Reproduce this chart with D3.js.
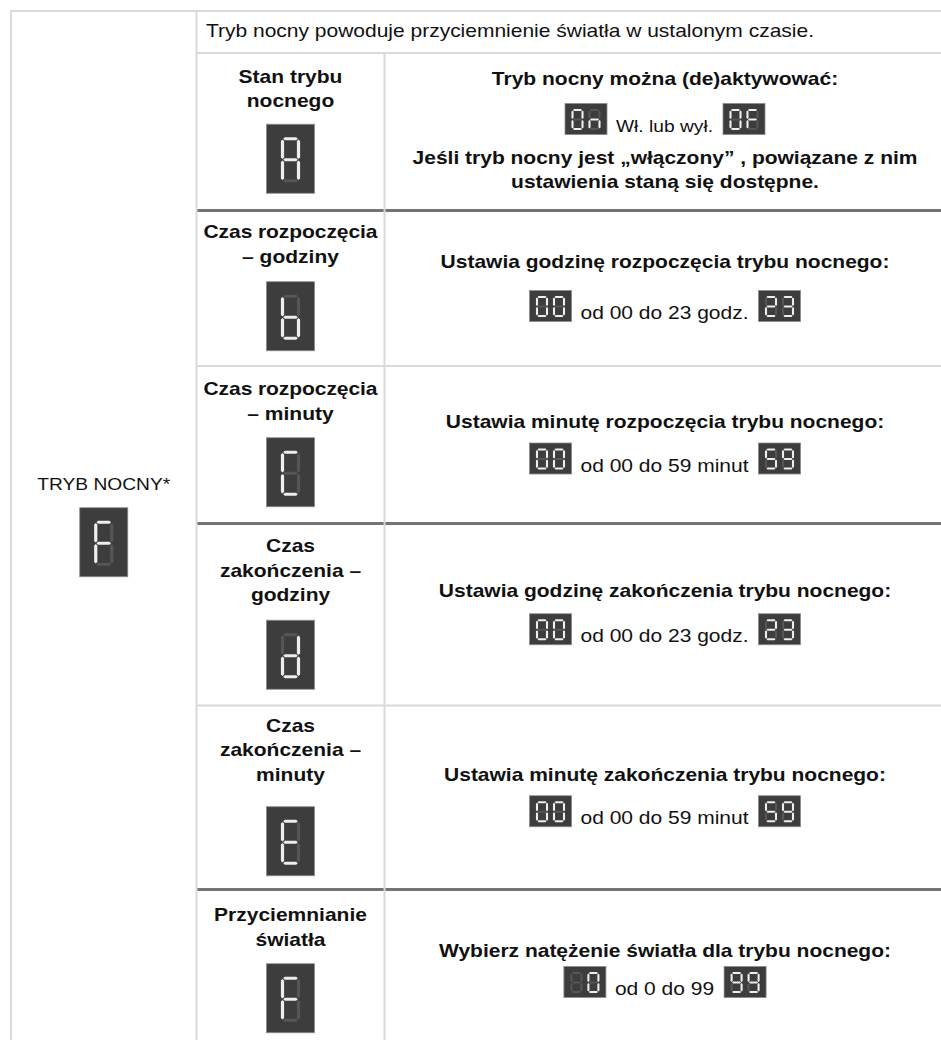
<!DOCTYPE html>
<html><head><meta charset="utf-8">
<script src="https://cdn.jsdelivr.net/npm/d3@7"></script>
<style>html,body{margin:0;padding:0;background:#fff;} svg{display:block;}</style>
</head><body><svg id="c" width="941" height="1040"></svg>
<script>
// ---------- data ----------
const groupLabel = "TRYB NOCNY*";
const groupCode = "F";
const introText = "Tryb nocny powoduje przyciemnienie światła w ustalonym czasie.";
const settingNames = [
  ["Stan trybu", "nocnego"],
  ["Czas rozpoczęcia", "– godziny"],
  ["Czas rozpoczęcia", "– minuty"],
  ["Czas", "zakończenia –", "godziny"],
  ["Czas", "zakończenia –", "minuty"],
  ["Przyciemnianie", "światła"]
];
const settingCodes = ["A", "b", "C", "d", "E", "F"];
const descriptions = [
  "Tryb nocny można (de)aktywować:",
  "Ustawia godzinę rozpoczęcia trybu nocnego:",
  "Ustawia minutę rozpoczęcia trybu nocnego:",
  "Ustawia godzinę zakończenia trybu nocnego:",
  "Ustawia minutę zakończenia trybu nocnego:",
  "Wybierz natężenie światła dla trybu nocnego:"
];
const rangeFrom = ["0n", "00", "00", "00", "00", " 0"];
const rangeTo = ["0F", "23", "59", "23", "59", "99"];
const rangeLabels = ["Wł. lub wył.", "od 00 do 23 godz.", "od 00 do 59 minut", "od 00 do 23 godz.", "od 00 do 59 minut", "od 0 do 99"];
const notes = [
  ["Jeśli tryb nocny jest „włączony” , powiązane z nim", "ustawienia staną się dostępne."],
  [], [], [], [], []
];
const separators = ["thick", "light", "thick", "light", "thick"];

// 7-segment map
const SEG = {"0":"abcdef","2":"abdeg","3":"abcdg","5":"acdfg","9":"abcdfg",
  "A":"abcefg","b":"cdefg","C":"adef","d":"bcdeg","E":"adefg","F":"aefg","n":"ceg"," ":""};

// ---------- layout ----------
const W = 941, H = 1040, SX = 1.2;
const X0 = 11, XC1 = 196.5, XC2 = 384.5, XR = W;
const Y0 = 11, YH = 53;
const rowEdges = [53, 210.5, 366, 523.5, 705.5, 889.5, 1052];
const leftGap = [17, 19, 18, 19, 26, 18];
const descGap = [19, 23, 15, 17, 15, 10];
const leftCenterY = 527;
const CX1 = (XC1 + XC2) / 2, CX2 = 665, CX0 = (X0 + XC1) / 2;
const FONT = "'Liberation Sans', Arial, Helvetica, sans-serif";
const LIT = "#eeeeee", DIM = "#565656", BOXF = "#3d3d3d", BOXS = "#8a8a8a";
const LIGHT = "#dadada", THICK = "#747474";

const svg = d3.select("#c");
svg.append("rect").attr("width", W).attr("height", H).attr("fill", "#fff");

function addText(parent, x, y, str, size, weight, anchor) {
  return parent.append("text")
    .attr("transform", `translate(${x},${y}) scale(${SX},1)`)
    .attr("text-anchor", anchor || "middle")
    .style("font-family", FONT)
    .style("font-size", size + "px")
    .style("font-weight", weight || "normal")
    .attr("fill", "#111")
    .text(str);
}
function textW(t) { return t.node().getComputedTextLength() * SX; }
function fit(t, maxW) {
  const w = textW(t);
  if (w > maxW) t.attr("textLength", maxW / SX).attr("lengthAdjust", "spacing");
}
function hseg(cx, cy, L, t) { const h = t / 2; return [[cx-L/2,cy],[cx-L/2+h,cy-h],[cx+L/2-h,cy-h],[cx+L/2,cy],[cx+L/2-h,cy+h],[cx-L/2+h,cy+h]]; }
function vseg(cx, cy, L, t) { const h = t / 2; return [[cx,cy-L/2],[cx+h,cy-L/2+h],[cx+h,cy+L/2-h],[cx,cy+L/2],[cx-h,cy+L/2-h],[cx-h,cy-L/2+h]]; }
function digit(g, ch, x0, y0, w, h, t) {
  const gap = t * 0.45;
  const segs = [
    ["a", hseg(x0 + w/2, y0, w - gap, t)],
    ["b", vseg(x0 + w, y0 + h/4, h/2 - gap, t)],
    ["c", vseg(x0 + w, y0 + 3*h/4, h/2 - gap, t)],
    ["d", hseg(x0 + w/2, y0 + h, w - gap, t)],
    ["e", vseg(x0, y0 + 3*h/4, h/2 - gap, t)],
    ["f", vseg(x0, y0 + h/4, h/2 - gap, t)],
    ["g", hseg(x0 + w/2, y0 + h/2, w - gap, t)]
  ];
  const on = SEG[ch] || "";
  g.append("g").selectAll("polygon").data(segs).join("polygon")
    .attr("points", d => d[1].map(p => p.join(",")).join(" "))
    .attr("fill", d => on.includes(d[0]) ? LIT : DIM);
}
function bigDisplay(g, cx, top, ch) {
  g.append("rect").attr("x", cx - 24).attr("y", top).attr("width", 48).attr("height", 69)
    .attr("fill", BOXF).attr("stroke", BOXS).attr("stroke-width", 0.8);
  digit(g, ch, cx - 8, top + 14.5, 16, 42, 3.2);
}
function smallDisplay(g, x, top, str) {
  g.append("rect").attr("x", x).attr("y", top).attr("width", 42).attr("height", 31)
    .attr("fill", BOXF).attr("stroke", BOXS).attr("stroke-width", 0.8);
  digit(g, str[0], x + 7.5, top + 6.5, 10, 19, 2.1);
  digit(g, str[1], x + 24.5, top + 6.5, 10, 19, 2.1);
}

// ---------- grid lines ----------
const lines = svg.append("g");
lines.append("line").attr("x1", X0 - 1).attr("x2", XR).attr("y1", Y0).attr("y2", Y0).attr("stroke", LIGHT).attr("stroke-width", 2);
lines.append("line").attr("x1", X0).attr("x2", X0).attr("y1", Y0).attr("y2", H).attr("stroke", LIGHT).attr("stroke-width", 2);
lines.append("line").attr("x1", XC1).attr("x2", XR).attr("y1", YH).attr("y2", YH).attr("stroke", LIGHT).attr("stroke-width", 2);
lines.selectAll("line.sep").data(separators).join("line").attr("class", "sep")
  .attr("x1", XC1).attr("x2", XR)
  .attr("y1", (d, i) => rowEdges[i + 1]).attr("y2", (d, i) => rowEdges[i + 1])
  .attr("stroke", d => d === "thick" ? THICK : LIGHT)
  .attr("stroke-width", d => d === "thick" ? 3 : 2);
lines.append("line").attr("x1", XC1).attr("x2", XC1).attr("y1", Y0).attr("y2", H).attr("stroke", LIGHT).attr("stroke-width", 2);
lines.append("line").attr("x1", XC2).attr("x2", XC2).attr("y1", YH).attr("y2", H).attr("stroke", LIGHT).attr("stroke-width", 2);

// ---------- header ----------
addText(svg, 206, 37, introText, 17.5, "normal", "start");

// ---------- group column ----------
{
  const g = svg.append("g");
  const gap = 18, hgt = 12.5 + gap + 69;
  const top = leftCenterY - hgt / 2;
  const t = addText(g, CX0, top + 12.5, groupLabel, 16, "normal");
  fit(t, 170);
  bigDisplay(g, CX0, top + 12.5 + gap, groupCode);
}

// ---------- rows ----------
const rows = settingCodes.map((code, i) => ({
  code, name: settingNames[i], desc: descriptions[i], from: rangeFrom[i], to: rangeTo[i],
  label: rangeLabels[i], notes: notes[i], y0: rowEdges[i], y1: rowEdges[i + 1],
  lg: leftGap[i], dg: descGap[i]
}));

svg.selectAll("g.row").data(rows).join("g").attr("class", "row").each(function (d) {
  const g = d3.select(this);
  const mid = (d.y0 + d.y1) / 2;
  // left cell
  const n = d.name.length;
  const lh = 12.5 + (n - 1) * 24.5 + d.lg + 69;
  const ltop = mid - lh / 2;
  d.name.forEach((s, k) => {
    const t = addText(g, CX1, ltop + 12.5 + k * 24.5, s, 17.5, "bold");
    fit(t, 174);
  });
  bigDisplay(g, CX1, ltop + 12.5 + (n - 1) * 24.5 + d.lg, d.code);
  // right cell
  const nn = d.notes.length;
  const rh = 12.5 + d.dg + 31 + (nn ? 29 + (nn - 1) * 24 + 4 : 0);
  const rtop = mid - rh / 2;
  const b0 = rtop + 12.5;
  addText(g, CX2, b0, d.desc, 17.5, "bold");
  const boxTop = b0 + d.dg;
  const small = d.label === "Wł. lub wył.";
  const lab = addText(g, 0, boxTop + 28.5, d.label, small ? 16 : 17.5, "normal", "start");
  const lw = textW(lab);
  const g1 = 9, g2 = 10;
  const total = 42 + g1 + lw + g2 + 42;
  const x0 = CX2 - total / 2;
  smallDisplay(g, x0, boxTop, d.from);
  lab.attr("transform", `translate(${x0 + 42 + g1},${boxTop + 28.5}) scale(${SX},1)`);
  smallDisplay(g, x0 + 42 + g1 + lw + g2, boxTop, d.to);
  d.notes.forEach((s, k) => {
    addText(g, CX2, boxTop + 31 + 29 + k * 24, s, 17.5, "bold");
  });
});
</script>
</body></html>
